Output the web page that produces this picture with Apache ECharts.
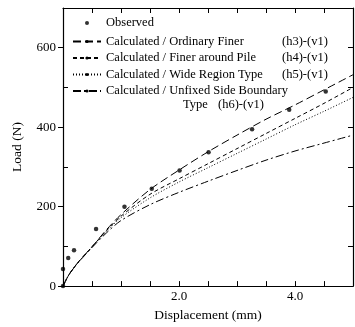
<!DOCTYPE html>
<html>
<head>
<meta charset="utf-8">
<script src="https://cdn.jsdelivr.net/npm/echarts@6/dist/echarts.min.js"></script>
<style>html,body{margin:0;padding:0;background:#fff}#c{width:355px;height:327px}</style>
</head>
<body>
<div id="c"></div>
<script>
// ---- data ----
const xDisp = [0, 0.1, 0.25, 0.5, 0.75, 1.0, 1.5, 2.0, 2.5, 3.0, 3.5, 4.0, 4.5, 5.0];
const loadH3 = [0, 28, 58, 99, 142, 180, 243, 292, 338, 380, 420, 456, 494, 532];
const loadH4 = [0, 28, 58, 99, 140, 176, 231, 270, 308, 346, 384, 422, 460, 500];
const loadH5 = [0, 28, 58, 98, 138, 172, 222, 262, 298, 334, 370, 406, 440, 475];
const loadH6 = [0, 28, 57, 97, 134, 165, 205, 236, 264, 291, 317, 340, 360, 380];
const obsX = [0, 0, 0.09, 0.19, 0.57, 1.06, 1.53, 2.01, 2.51, 3.26, 3.90, 4.53];
const obsY = [0, 43, 71, 90, 144, 200, 245, 291, 337, 395, 444, 490];
const xLabelTicks = [2, 4];
const yLabelTicks = [0, 200, 400, 600];
const names = ['Observed', 'Calculated / Ordinary Finer', 'Calculated / Finer around Pile',
               'Calculated / Wide Region Type', 'Calculated / Unfixed Side Boundary'];
const tags = ['', '(h3)-(v1)', '(h4)-(v1)', '(h5)-(v1)', ''];

const FONT = 'Liberation Serif';
const pair = (xs, ys) => xs.map((x, i) => [x, ys[i]]);

const chart = echarts.init(document.getElementById('c'), null, {renderer: 'canvas'});
const lineSeries = (name, ys, dash) => ({
  name, type: 'line', data: pair(xDisp, ys), symbol: 'none', smooth: 0.3,
  lineStyle: {color: '#000', width: 1, type: dash}, itemStyle: {color: '#000'},
  xAxisIndex: 0, yAxisIndex: 0, z: 3
});

chart.setOption({
  animation: false,
  backgroundColor: '#fff',
  textStyle: {fontFamily: FONT, color: '#000'},
  grid: {left: 63, right: 2, top: 8, bottom: 35, containLabel: false},
  legend: {
    orient: 'vertical', left: 72, top: 14, itemWidth: 28, itemHeight: 4, itemGap: 2.5,
    padding: 0,
    data: names.map((n, i) => i === 0
      ? {name: n, icon: 'circle', textStyle: {lineHeight: 18}}
      : {name: n}),
    textStyle: {fontFamily: FONT, fontSize: 12.5, color: '#000', lineHeight: 14,
      rich: {a: {fontFamily: FONT, fontSize: 12.5, width: 176, lineHeight: 14},
             b: {fontFamily: FONT, fontSize: 12.5, lineHeight: 14}}},
    formatter: (n) => {
      const i = names.indexOf(n);
      return tags[i] ? '{a|' + n + '}{b|' + tags[i] + '}' : n;
    },
    selectedMode: false
  },
  graphic: [
    {type: 'text', left: 183, top: 98, style: {text: 'Type', font: '12.5px "Liberation Serif"', fill: '#000'}},
    {type: 'text', left: 218, top: 98, style: {text: '(h6)-(v1)', font: '12.5px "Liberation Serif"', fill: '#000'}}
  ],
  xAxis: [
    {type: 'value', position: 'bottom', min: 0, max: 5, interval: 0.5,
     name: 'Displacement (mm)', nameLocation: 'middle', nameGap: 19,
     nameTextStyle: {fontFamily: FONT, fontSize: 13.5, color: '#000'},
     axisLine: {onZero: false, lineStyle: {color: '#000', width: 1.2}},
     axisTick: {inside: true, length: 5, lineStyle: {color: '#000'}},
     axisLabel: {customValues: xLabelTicks, formatter: v => v.toFixed(1), margin: 4,
                 fontFamily: FONT, fontSize: 13, color: '#000'},
     splitLine: {show: false}},
    {type: 'value', position: 'top', min: 0, max: 5, interval: 0.5,
     axisLine: {show: true, onZero: false, lineStyle: {color: '#000', width: 1.2}},
     axisTick: {show: true, inside: true, length: 5, lineStyle: {color: '#000'}},
     axisLabel: {show: false}, splitLine: {show: false}}
  ],
  yAxis: [
    {type: 'value', position: 'left', min: 0, max: 700, interval: 100,
     name: 'Load (N)', nameLocation: 'middle', nameGap: 39, nameRotate: 90,
     nameTextStyle: {fontFamily: FONT, fontSize: 13.5, color: '#000'},
     axisLine: {onZero: false, lineStyle: {color: '#000', width: 1.2}},
     axisTick: {inside: true, length: 5, customValues: [100, 300, 500], lineStyle: {color: '#000'}},
     axisLabel: {customValues: yLabelTicks, margin: 7, fontFamily: FONT, fontSize: 13, color: '#000'},
     splitLine: {show: false}},
    {type: 'value', position: 'right', min: 0, max: 700, interval: 100,
     axisLine: {show: true, onZero: false, lineStyle: {color: '#000', width: 1.2}},
     axisTick: {show: true, inside: true, length: 5, lineStyle: {color: '#000'}},
     axisLabel: {show: false}, splitLine: {show: false}},
    {type: 'value', position: 'left', min: 0, max: 700, interval: 100,
     axisLine: {show: false, onZero: false},
     axisTick: {show: true, inside: false, length: 5, customValues: yLabelTicks, lineStyle: {color: '#000'}},
     axisLabel: {show: false}, splitLine: {show: false}}
  ],
  series: [
    {name: names[0], type: 'scatter', data: pair(obsX, obsY), symbol: 'circle', symbolSize: 4.5,
     itemStyle: {color: '#000'}, xAxisIndex: 0, yAxisIndex: 0, z: 4},
    lineSeries(names[1], loadH3, [8, 4]),
    lineSeries(names[2], loadH4, [4, 3]),
    lineSeries(names[3], loadH5, [1, 2]),
    lineSeries(names[4], loadH6, [8, 3, 2, 3])
  ]
});
</script>
</body>
</html>
